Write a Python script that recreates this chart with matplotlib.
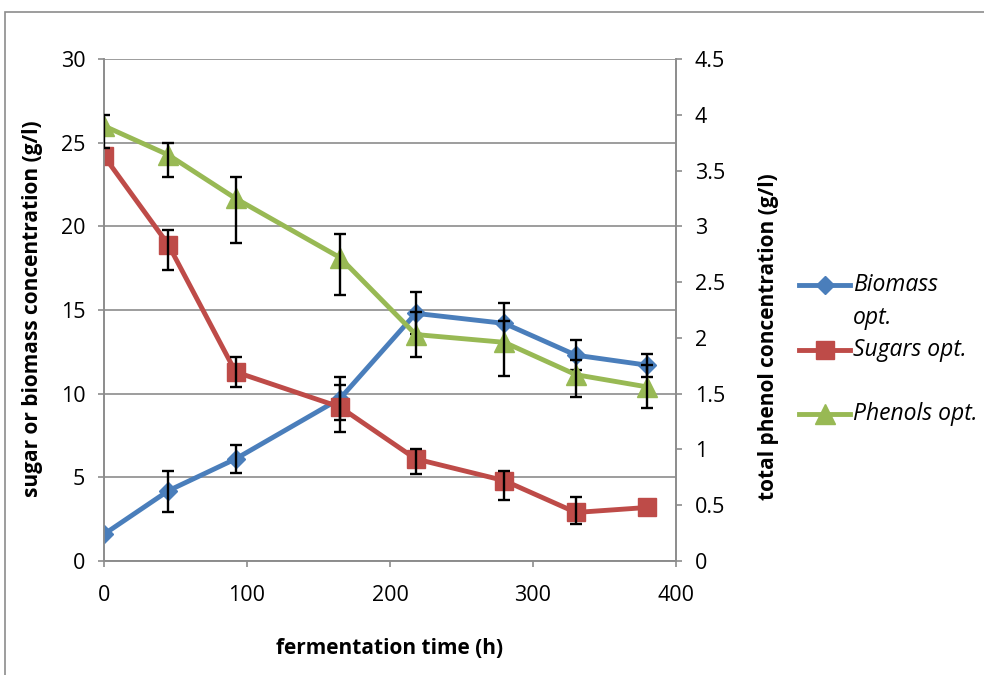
import matplotlib
matplotlib.use('Agg')
import matplotlib.pyplot as plt
from matplotlib.lines import Line2D
from matplotlib.patches import Rectangle

plt.rcParams['font.family'] = ['Open Sans', 'DejaVu Sans']

# data
time_h = [0, 45, 92, 165, 218, 280, 330, 380]
biomass = [1.6, 4.2, 6.1, 9.7, 14.8, 14.2, 12.3, 11.7]
biomass_lo = [0.0, 1.25, 0.85, 1.3, 1.25, 1.2, 0.9, 0.7]
biomass_hi = [0.0, 1.2, 0.85, 1.3, 1.25, 1.2, 0.9, 0.7]
sugars = [24.2, 18.9, 11.3, 9.2, 6.1, 4.8, 2.9, 3.2]
sugars_lo = [0.0, 1.5, 0.9, 1.5, 0.9, 1.15, 0.7, 0.0]
sugars_hi = [0.0, 0.9, 0.9, 1.3, 0.6, 0.55, 0.9, 0.0]
phenols = [3.9, 3.64, 3.25, 2.72, 2.03, 1.96, 1.67, 1.56]
phenols_lo = [0.2, 0.2, 0.4, 0.34, 0.2, 0.3, 0.2, 0.19]
phenols_hi = [0.1, 0.11, 0.19, 0.21, 0.2, 0.19, 0.13, 0.2]

blue = '#4A7EBB'
red = '#BE4B48'
green = '#98B954'
grey = '#8C8C8C'

fig = plt.figure(figsize=(9.84, 6.75), dpi=100)
ax = fig.add_axes([0.1057, 0.1689, 0.5813, 0.7437])
ax2 = ax.twinx()

# outer chart border
fig.patches.append(Rectangle((5/984, -0.01), 1.0, 1 - 12/675 + 0.01, transform=fig.transFigure,
                             fill=False, edgecolor=grey, lw=1.2))


def bars(a, y, lo, hi):
    # only points that have an error bar
    keep = [i for i in range(len(time_h)) if lo[i] > 0 or hi[i] > 0]
    a.errorbar([time_h[i] for i in keep], [y[i] for i in keep],
               yerr=[[lo[i] for i in keep], [hi[i] for i in keep]],
               fmt='none', ecolor='black', elinewidth=1.7,
               capsize=4.5, capthick=1.7, zorder=5)


bars(ax, biomass, biomass_lo, biomass_hi)
bars(ax, sugars, sugars_lo, sugars_hi)
ax.plot(time_h, biomass, color=blue, lw=3.5, marker='D', ms=9.5, zorder=3)
ax.plot(time_h, sugars, color=red, lw=3.5, marker='s', ms=13, zorder=3)

bars(ax2, phenols, phenols_lo, phenols_hi)
ax2.plot(time_h, phenols, color=green, lw=3.5, marker='^', ms=14, zorder=3)

ax.set_xlim(0, 400)
ax.set_ylim(0, 30)
ax2.set_ylim(0, 4.5)
ax.set_xticks([0, 100, 200, 300, 400])
ax.set_yticks(range(0, 31, 5))
ax2.set_yticks([0, 0.5, 1, 1.5, 2, 2.5, 3, 3.5, 4, 4.5])
ax2.set_yticklabels(['0', '0.5', '1', '1.5', '2', '2.5', '3', '3.5', '4', '4.5'])

ax.grid(axis='y', color=grey, lw=1.2)
ax.set_axisbelow(True)
for a in (ax, ax2):
    a.spines['top'].set_visible(False)
    for s in ('left', 'right', 'bottom'):
        a.spines[s].set_color(grey)
        a.spines[s].set_linewidth(1.2)
    a.tick_params(colors=grey, labelcolor='black', labelsize=15.5, length=4.5, width=1.2, pad=9)
ax.tick_params(axis='x', pad=13)

fig.text(0.396, 0.04, 'fermentation time (h)', fontsize=15, fontweight='bold',
         ha='center', va='center')
fig.text(0.0335, 0.542, 'sugar or biomass concentration (g/l)', fontsize=15,
         fontweight='bold', rotation=90, ha='center', va='center')
fig.text(0.7805, 0.502, 'total phenol concentration (g/l)', fontsize=15,
         fontweight='bold', rotation=90, ha='center', va='center')

# legend, drawn like the Excel one
leg_y = [285, 350, 414]
leg_style = [(blue, 'D', 9.5), (red, 's', 13), (green, '^', 14)]
leg_text = ['Biomass', 'Sugars opt.', 'Phenols opt.']
for yp, (c, m, s), t in zip(leg_y, leg_style, leg_text):
    yf = 1 - yp / 675
    fig.add_artist(Line2D([799/984, 850/984], [yf, yf], color=c, lw=3.5,
                          transform=fig.transFigure))
    fig.add_artist(Line2D([825/984], [yf], color=c, marker=m, ms=s, lw=0,
                          transform=fig.transFigure))
    fig.text(853/984, yf, t, fontsize=16.5, style='italic', ha='left', va='center')
fig.text(853/984, 1 - 318/675, 'opt.', fontsize=16.5, style='italic', ha='left', va='center')

fig.savefig('out.png', dpi=100)
